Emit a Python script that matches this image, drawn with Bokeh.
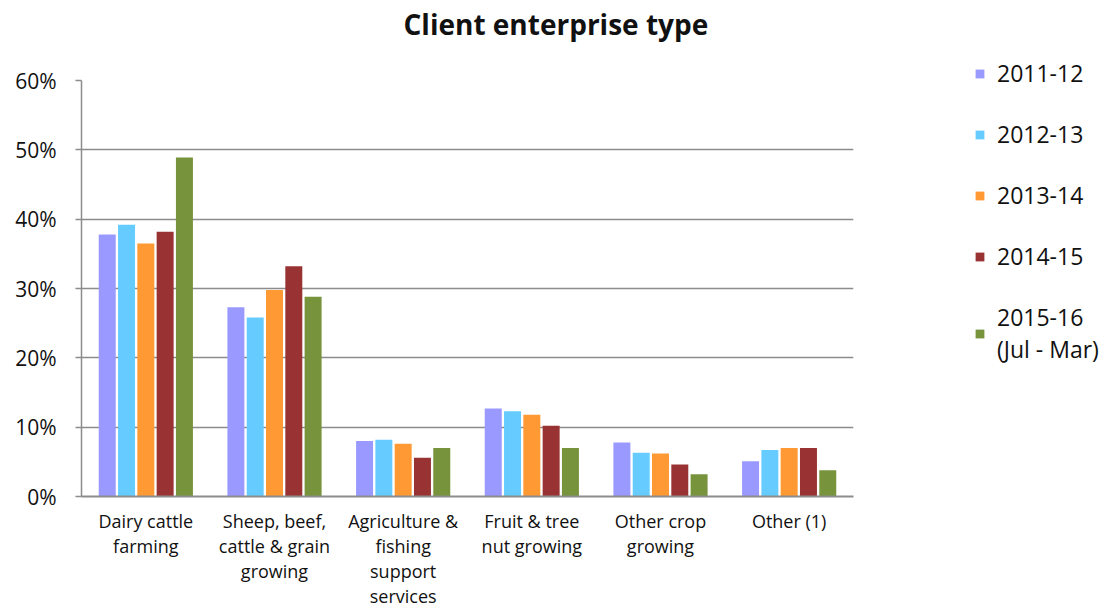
from bokeh.plotting import figure
from bokeh.models import (ColumnDataSource, Legend, LegendItem, FactorRange,
                          NumeralTickFormatter, FixedTicker, CategoricalAxis,
                          CustomJSTickFormatter)
from bokeh.transform import dodge
from bokeh.embed import file_html
from bokeh.resources import INLINE

categories = ["Dairy cattle farming", "Sheep, beef, cattle & grain growing",
              "Agriculture & fishing support services", "Fruit & tree nut growing",
              "Other crop growing", "Other (1)"]
category_lines = [["Dairy cattle", "farming"],
                  ["Sheep, beef,", "cattle & grain", "growing"],
                  ["Agriculture &", "fishing", "support", "services"],
                  ["Fruit & tree", "nut growing"],
                  ["Other crop", "growing"],
                  ["Other (1)"]]
series_names = ["2011-12", "2012-13", "2013-14", "2014-15", "2015-16\n(Jul - Mar)"]
v2011_12 = [37.8, 27.3, 8.0, 12.7, 7.8, 5.1]
v2012_13 = [39.2, 25.8, 8.2, 12.3, 6.3, 6.7]
v2013_14 = [36.5, 29.8, 7.6, 11.8, 6.2, 7.0]
v2014_15 = [38.2, 33.2, 5.6, 10.2, 4.6, 7.0]
v2015_16 = [48.9, 28.8, 7.0, 7.0, 3.2, 3.8]
colors = ["#9999FF", "#66CCFF", "#FF9933", "#993333", "#77933C"]

FONT = "Open Sans"
TXT = "#111111"
GRID = "#8c8c8c"
series = [v2011_12, v2012_13, v2013_14, v2014_15, v2015_16]
data = {"cat": categories}
for i, s in enumerate(series):
    data[f"s{i}"] = [v / 100 for v in s]
src = ColumnDataSource(data)

p = figure(x_range=FactorRange(*categories), y_range=(0, 0.6),
           frame_width=772, frame_height=416, min_border_left=81, min_border_top=80,
           min_border_right=259, min_border_bottom=0,
           output_backend="svg", toolbar_location=None)

offsets = [-0.30, -0.15, 0.0, 0.15, 0.30]
renderers = []
for i in range(5):
    r = p.vbar(x=dodge("cat", offsets[i], range=p.x_range), top=f"s{i}", width=0.132,
               source=src, fill_color=colors[i], line_color=None)
    renderers.append(r)

p.outline_line_color = None
p.xgrid.grid_line_color = None
p.ygrid.grid_line_color = GRID
p.ygrid.grid_line_width = 1.5

p.yaxis.ticker = FixedTicker(ticks=[0, 0.1, 0.2, 0.3, 0.4, 0.5, 0.6])
p.yaxis.formatter = NumeralTickFormatter(format="0%")
p.yaxis.axis_line_color = GRID
p.yaxis.axis_line_width = 1.5
p.yaxis.major_tick_line_color = GRID
p.yaxis.major_tick_line_width = 1.5
p.yaxis.major_tick_out = 6
p.yaxis.major_tick_in = 0
p.yaxis.minor_tick_line_color = None
p.yaxis.major_label_text_font = FONT
p.yaxis.major_label_text_font_size = "21px"
p.yaxis.major_label_text_color = TXT
p.yaxis.major_label_standoff = 19

# multi-line category labels: one stacked axis per text line
for k in range(4):
    if k == 0:
        ax = p.xaxis[0]
        ax.axis_line_color = GRID
        ax.axis_line_width = 2
        ax.major_label_standoff = 12
    else:
        ax = CategoricalAxis()
        ax.axis_line_color = None
        ax.major_label_standoff = -2
        p.add_layout(ax, "below")
    mapping = {c: (lines[k] if k < len(lines) else "")
               for c, lines in zip(categories, category_lines)}
    ax.formatter = CustomJSTickFormatter(args=dict(m=mapping), code="return m[tick];")
    ax.major_tick_line_color = None
    ax.major_tick_out = 0
    ax.major_tick_in = 0
    ax.minor_tick_line_color = None
    ax.major_label_text_font = FONT
    ax.major_label_text_font_size = "18px"
    ax.major_label_text_color = TXT

legend = Legend(items=[LegendItem(label=series_names[i], renderers=[renderers[i]]) for i in range(5)],
                location=(121, 131), orientation="vertical",
                label_text_font=FONT, label_text_font_size="23px", label_text_color=TXT,
                glyph_width=11, glyph_height=11, label_standoff=12, spacing=29,
                label_height=26, background_fill_alpha=0, border_line_color=None,
                padding=0, margin=121)
p.add_layout(legend, "right")

p.title.text = "Client enterprise type\n "
p.title.text_font = FONT
p.title.text_font_style = "bold"
p.title.text_font_size = "28px"
p.title.text_line_height = 1.0
p.title.text_color = TXT
p.title.align = "left"
p.title.offset = 322
p.title.standoff = 0

open("out.html", "w").write(file_html(p, INLINE))
